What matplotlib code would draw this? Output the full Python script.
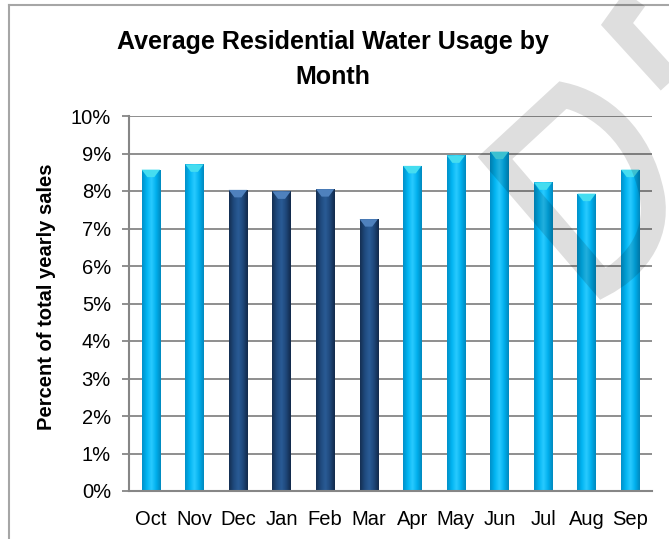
import numpy as np
import matplotlib
matplotlib.use("Agg")
import matplotlib.pyplot as plt
from matplotlib.patches import Polygon, PathPatch
from matplotlib.path import Path
from matplotlib.lines import Line2D
from matplotlib.colors import LinearSegmentedColormap
from matplotlib.ticker import FuncFormatter

# ---- data ----
months = ["Oct", "Nov", "Dec", "Jan", "Feb", "Mar",
          "Apr", "May", "Jun", "Jul", "Aug", "Sep"]
usage_pct = [8.57, 8.71, 8.03, 7.99, 8.05, 7.25,
             8.67, 8.95, 9.05, 8.23, 7.93, 8.57]
winter = [False, False, True, True, True, True,
          False, False, False, False, False, False]
y_ticks = list(range(0, 11))

title_line1 = "Average Residential Water Usage by"
title_line2 = "Month"
ylabel = "Percent of total yearly sales"

# ---- style ----
plt.rcParams['font.family'] = ['Liberation Sans', 'DejaVu Sans']
W, H = 669, 539
fig = plt.figure(figsize=(W / 100, H / 100), dpi=100)
ax = fig.add_axes([129 / W, 1 - 491 / H, (652 - 129) / W, (491 - 116) / H])

light_cmap = LinearSegmentedColormap.from_list(
    "light", ["#0090C8", "#00B4F2", "#2ACBFF", "#00B0EE", "#0088BE"])
dark_cmap = LinearSegmentedColormap.from_list(
    "dark", ["#142F52", "#1F4A7E", "#2A5C96", "#1E477A", "#12294A"])

x = np.arange(len(months))
colors = ["#1F497D" if w else "#00B0F0" for w in winter]
bars = ax.bar(x, usage_pct, width=0.42, color=colors, zorder=2,
              edgecolor="none")

grad = np.linspace(0, 1, 64).reshape(1, -1)
for b, w in zip(bars, winter):
    x0, x1 = b.get_x(), b.get_x() + b.get_width()
    h = b.get_height()
    im = ax.imshow(grad, extent=[x0, x1, 0, h], aspect='auto',
                   cmap=dark_cmap if w else light_cmap, zorder=2.1,
                   interpolation='bicubic')
    im.set_clip_path(b)
    xc = (x0 + x1) / 2
    d = 0.2
    cap = Polygon([[x0, h], [x1, h], [xc + 0.08, h - d], [xc - 0.08, h - d]],
                  closed=True, facecolor="#4F81BD" if w else "#45DDF0",
                  edgecolor="none", zorder=2.2)
    ax.add_patch(cap)

ax.set_xlim(-0.5, len(months) - 0.5)
ax.set_ylim(0, 10)
ax.set_xticks(x)
ax.set_xticklabels(months)
ax.set_yticks(y_ticks)
ax.yaxis.set_major_formatter(FuncFormatter(lambda v, p: f"{int(v)}%"))

ax.grid(axis='y', color="#868686", linewidth=1.3, zorder=1)
ax.set_axisbelow(True)
for s in ["top", "right"]:
    ax.spines[s].set_visible(False)
for s in ["left", "bottom"]:
    ax.spines[s].set_color("#868686")
    ax.spines[s].set_linewidth(1.5)

ax.tick_params(axis='y', length=5, width=1.3, color="#868686", pad=8,
               labelsize=14.5, labelcolor="black")
ax.tick_params(axis='x', length=0, pad=14, labelsize=14.5, labelcolor="black")

ax.set_ylabel(ylabel, fontsize=14.5, fontweight='bold')
ax.yaxis.set_label_coords(-0.14, 0.517)

fig.text(333 / W, 1 - 49 / H, title_line1, ha='center', va='baseline',
         fontsize=18, fontweight='bold')
fig.text(333 / W, 1 - 84 / H, title_line2, ha='center', va='baseline',
         fontsize=18, fontweight='bold')

# chart frame
fig.add_artist(Line2D([9 / W, 1], [1 - 5 / H, 1 - 5 / H], color="#A6A6A6",
                      linewidth=1.5, transform=fig.transFigure))
fig.add_artist(Line2D([9 / W, 9 / W], [0, 1 - 5 / H], color="#A6A6A6",
                      linewidth=1.5, transform=fig.transFigure))

# watermark overlay
ov = fig.add_axes([0, 0, 1, 1], zorder=10)
ov.set_xlim(0, W)
ov.set_ylim(H, 0)
ov.axis('off')
ov.patch.set_alpha(0)
verts = [(495, 158), (563, 95),
         (600, 103), (640, 135), (652, 195),
         (660, 240), (630, 270), (603, 284),
         (495, 158), (495, 158)]
codes = [Path.MOVETO, Path.LINETO,
         Path.CURVE4, Path.CURVE4, Path.CURVE4,
         Path.CURVE4, Path.CURVE4, Path.CURVE4,
         Path.LINETO, Path.CLOSEPOLY]
ov.add_patch(PathPatch(Path(verts, codes), facecolor='none',
                       edgecolor='black', alpha=0.13, linewidth=18,
                       joinstyle='miter'))
ov.add_patch(PathPatch(Path([(640, -8), (617, 24), (700, 115)],
                            [Path.MOVETO, Path.LINETO, Path.LINETO]),
                       facecolor='none', edgecolor='black', alpha=0.13,
                       linewidth=18, joinstyle='miter'))

fig.savefig("out.png", dpi=100)
